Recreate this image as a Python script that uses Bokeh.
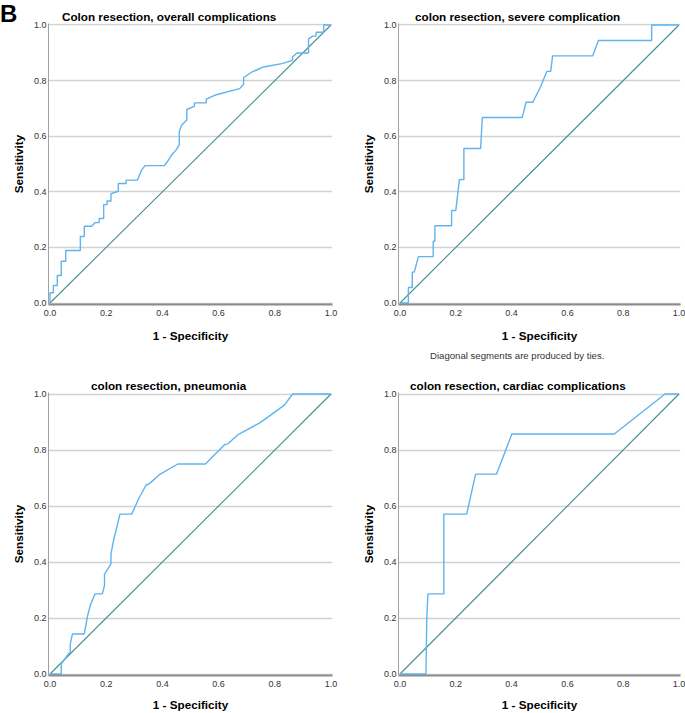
from bokeh.plotting import figure
from bokeh.layouts import GridBox
from bokeh.models import Range1d, FixedTicker, PrintfTickFormatter, Title, Div
from bokeh.embed import file_html
from bokeh.resources import INLINE

# ---------------- data ----------------
tick_values = [0.0, 0.2, 0.4, 0.6, 0.8, 1.0]
diag_x = [0.0, 1.0]
diag_y = [0.0, 1.0]

panel_letter = "B"
x_label = "1 - Specificity"
y_label = "Sensitivity"
footnote = "Diagonal segments are produced by ties."

title_overall = "Colon resection, overall complications"
title_severe = "colon resection, severe complication"
title_pneu = "colon resection, pneumonia"
title_card = "colon resection, cardiac complications"

overall_fpr = [0.000, 0.000, 0.012, 0.012, 0.026, 0.026, 0.040, 0.040, 0.056, 0.056,
               0.108, 0.108, 0.122, 0.122, 0.148, 0.160, 0.175, 0.175, 0.191, 0.191,
               0.203, 0.203, 0.217, 0.217, 0.243, 0.243, 0.271, 0.271, 0.311, 0.327,
               0.338, 0.407, 0.419, 0.433, 0.448, 0.460, 0.460, 0.469, 0.487, 0.487,
               0.514, 0.514, 0.556, 0.556, 0.588, 0.675, 0.689, 0.689, 0.719, 0.760,
               0.825, 0.863, 0.863, 0.879, 0.920, 0.920, 0.935, 0.947, 0.947, 0.974,
               0.974, 1.000]
overall_tpr = [0.000, 0.037, 0.037, 0.063, 0.063, 0.099, 0.099, 0.150, 0.150, 0.189,
               0.189, 0.239, 0.239, 0.276, 0.276, 0.289, 0.289, 0.304, 0.304, 0.354,
               0.354, 0.367, 0.367, 0.393, 0.402, 0.430, 0.430, 0.442, 0.442, 0.480,
               0.494, 0.494, 0.510, 0.533, 0.549, 0.569, 0.617, 0.640, 0.658, 0.696,
               0.708, 0.720, 0.720, 0.733, 0.748, 0.771, 0.787, 0.811, 0.831, 0.849,
               0.861, 0.873, 0.885, 0.899, 0.899, 0.950, 0.960, 0.960, 0.974, 0.974,
               1.000, 1.000]

severe_fpr = [0.000, 0.030, 0.030, 0.044, 0.044, 0.051, 0.066, 0.119, 0.119, 0.125,
              0.125, 0.185, 0.185, 0.200, 0.213, 0.229, 0.229, 0.289, 0.295, 0.438,
              0.452, 0.476, 0.504, 0.526, 0.540, 0.547, 0.691, 0.711, 0.902, 0.902,
              1.000]
severe_tpr = [0.000, 0.000, 0.056, 0.056, 0.111, 0.111, 0.167, 0.167, 0.222, 0.222,
              0.278, 0.278, 0.333, 0.333, 0.444, 0.444, 0.556, 0.556, 0.667, 0.667,
              0.722, 0.722, 0.778, 0.833, 0.833, 0.889, 0.889, 0.944, 0.944, 1.000,
              1.000]

pneu_fpr = [0.000, 0.040, 0.040, 0.065, 0.072, 0.072, 0.080, 0.122, 0.134, 0.145,
            0.160, 0.186, 0.194, 0.194, 0.217, 0.217, 0.226, 0.249, 0.291, 0.315,
            0.342, 0.353, 0.392, 0.455, 0.553, 0.600, 0.621, 0.633, 0.671, 0.748,
            0.790, 0.835, 0.863, 1.000]
pneu_tpr = [0.000, 0.000, 0.036, 0.071, 0.079, 0.107, 0.143, 0.143, 0.209, 0.250,
            0.286, 0.286, 0.316, 0.357, 0.393, 0.429, 0.476, 0.571, 0.571, 0.625,
            0.675, 0.679, 0.714, 0.750, 0.750, 0.797, 0.819, 0.822, 0.856, 0.898,
            0.928, 0.961, 1.000, 1.000]

card_fpr = [0.000, 0.093, 0.096, 0.100, 0.157, 0.157, 0.239, 0.271, 0.346, 0.401,
            0.768, 0.950, 1.000]
card_tpr = [0.000, 0.000, 0.200, 0.286, 0.286, 0.571, 0.571, 0.714, 0.714, 0.857,
            0.857, 1.000, 1.000]

# ---------------- styling ----------------
FONT = "Liberation Sans"
CURVE_COLOR = "#5fb3ee"
DIAG_COLOR = "#43918b"
PAD = 1.5  # px of padding so lines on the frame edges are not clipped


def make_panel(title, fpr, tpr, fig_w, fig_h, b_left, b_top, W, H, title_offset,
               tick_standoff, xlabel_standoff):
    frame_w = W + 3
    frame_h = H + 3
    b_right = fig_w - b_left - frame_w
    b_bottom = fig_h - b_top - frame_h
    px = PAD / W
    py = PAD / H
    p = figure(width=fig_w, height=fig_h, output_backend="svg", toolbar_location=None,
               x_range=Range1d(-px, 1 + px), y_range=Range1d(-py, 1 + py),
               min_border_left=b_left, min_border_right=max(b_right, 0),
               min_border_top=b_top, min_border_bottom=b_bottom, tools="")
    p.outline_line_color = None
    p.background_fill_color = "white"
    p.border_fill_color = "white"

    p.title.text = title
    p.title.text_font = FONT
    p.title.text_font_size = "11.7px"
    p.title.text_font_style = "bold"
    p.title.text_color = "#000000"
    p.title.align = "left"
    p.title.offset = title_offset
    p.title.standoff = 1

    p.xgrid.grid_line_color = None
    p.ygrid.grid_line_color = "#d2d2d2"
    p.ygrid.grid_line_width = 1.5
    p.ygrid.ticker = FixedTicker(ticks=tick_values)

    for ax in (p.xaxis[0], p.yaxis[0]):
        ax.ticker = FixedTicker(ticks=tick_values)
        ax.formatter = PrintfTickFormatter(format="%.1f")
        ax.major_tick_line_color = None
        ax.minor_tick_line_color = None
        ax.major_tick_out = 0
        ax.major_tick_in = 0
        ax.major_label_text_font = FONT
        ax.major_label_text_font_size = "9px"
        ax.major_label_text_color = "#333333"
        ax.axis_label_text_font = FONT
        ax.axis_label_text_font_size = "11.7px"
        ax.axis_label_text_font_style = "bold"
        ax.axis_label_text_color = "#000000"

    p.xaxis.axis_label = x_label
    p.xaxis.major_label_standoff = tick_standoff
    p.xaxis.axis_label_standoff = xlabel_standoff
    p.xaxis.axis_line_color = "#8c8c8c"
    p.xaxis.axis_line_width = 2
    p.yaxis.axis_label = y_label
    p.yaxis.major_label_standoff = 2
    p.yaxis.axis_label_standoff = 6
    p.yaxis.axis_line_color = "#a0a0a0"
    p.yaxis.axis_line_width = 1

    p.line(diag_x, diag_y, line_color=DIAG_COLOR, line_width=1.1)
    p.line(fpr, tpr, line_color=CURVE_COLOR, line_width=1.4)
    return p


LEFT_W, RIGHT_W = 346, 339
TOP_H, BOTTOM_H = 365, 348

p1 = make_panel(title_overall, overall_fpr, overall_tpr, LEFT_W, TOP_H,
                b_left=48, b_top=23, W=281, H=280, title_offset=13.5,
                tick_standoff=5, xlabel_standoff=10)
p2 = make_panel(title_severe, severe_fpr, severe_tpr, RIGHT_W, TOP_H,
                b_left=52, b_top=22, W=279, H=279, title_offset=16.5,
                tick_standoff=5, xlabel_standoff=10)
p3 = make_panel(title_pneu, pneu_fpr, pneu_tpr, LEFT_W, BOTTOM_H,
                b_left=48, b_top=27, W=281, H=280, title_offset=42.5,
                tick_standoff=5, xlabel_standoff=8)
p4 = make_panel(title_card, card_fpr, card_tpr, RIGHT_W, BOTTOM_H,
                b_left=52, b_top=27, W=279, H=280, title_offset=11.5,
                tick_standoff=5, xlabel_standoff=8)

# footnote under the top-right panel
p2.add_layout(Title(text=footnote, align="left", offset=31.5, standoff=6,
                    text_font=FONT, text_font_size="9.6px", text_font_style="normal",
                    text_color="#333333"), "below")

# panel letter "B", overlaid in the top-left corner of the first cell
letter = Div(text=panel_letter, width=30, height=28,
             styles={"font-family": FONT, "font-size": "24px", "font-weight": "bold",
                     "line-height": "27px", "color": "#000000", "margin": "0",
                     "padding": "0"})

layout = GridBox(children=[(p1, 0, 0), (p2, 0, 1), (p3, 1, 0), (p4, 1, 1),
                           (letter, 0, 0)])
open("out.html", "w").write(file_html(layout, INLINE))
